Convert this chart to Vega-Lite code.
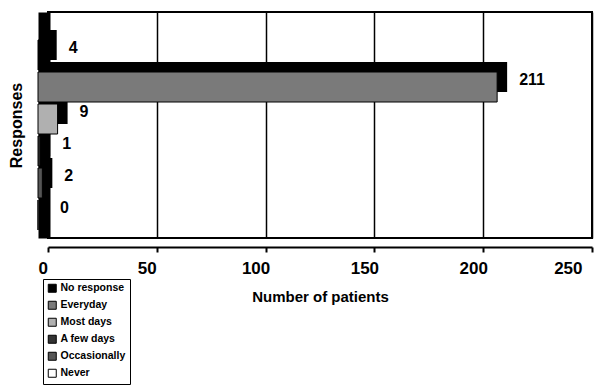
{
  "$schema": "https://vega.github.io/schema/vega-lite/v6.json",
  "width": 544,
  "height": 226,
  "autosize": "none",
  "padding": {"left": 48, "top": 12, "right": 4, "bottom": 147},
  "background": "white",
  "config": {
    "font": "Liberation Sans",
    "view": {"stroke": "black", "strokeWidth": 2}
  },
  "data": {
    "values": [
      {"response": "No response", "patients": 4},
      {"response": "Everyday", "patients": 211},
      {"response": "Most days", "patients": 9},
      {"response": "A few days", "patients": 1},
      {"response": "Occasionally", "patients": 2},
      {"response": "Never", "patients": 0}
    ]
  },
  "encoding": {
    "y": {
      "field": "response",
      "type": "nominal",
      "sort": null,
      "scale": {
        "domain": ["No response", "Everyday", "Most days", "A few days", "Occasionally", "Never"],
        "paddingInner": 0.0625,
        "paddingOuter": 0.5625
      },
      "axis": {
        "title": "Responses",
        "labels": false,
        "ticks": false,
        "domainColor": "black",
        "domainWidth": 12,
        "offset": 4,
        "titleFont": "Liberation Sans",
        "titleFontWeight": "bold",
        "titleFontSize": 16,
        "titleColor": "black",
        "titlePadding": 20
      }
    },
    "x": {
      "field": "patients",
      "type": "quantitative",
      "scale": {"domain": [0, 250], "nice": false},
      "axis": {
        "title": "Number of patients",
        "values": [0, 50, 100, 150, 200, 250],
        "grid": true,
        "gridColor": "black",
        "gridWidth": 1.5,
        "gridOpacity": 1,
        "domainColor": "black",
        "domainWidth": 2,
        "offset": 9,
        "tickColor": "black",
        "tickWidth": 2,
        "tickSize": 5,
        "labelOffset": -10,
        "labelPadding": 8,
        "labelFont": "Liberation Sans",
        "labelFontWeight": "bold",
        "labelFontSize": 17,
        "labelColor": "black",
        "titleFont": "Liberation Sans",
        "titleFontWeight": "bold",
        "titleFontSize": 15,
        "titleColor": "black",
        "titlePadding": 13
      }
    }
  },
  "layer": [
    {
      "mark": {"type": "bar", "color": "black"}
    },
    {
      "mark": {"type": "bar", "xOffset": -10, "x2Offset": -10, "yOffset": 10, "y2Offset": 10, "stroke": "black", "strokeWidth": 1},
      "encoding": {
        "color": {
          "field": "response",
          "type": "nominal",
          "scale": {
            "domain": ["No response", "Everyday", "Most days", "A few days", "Occasionally", "Never"],
            "range": ["#000000", "#7a7a7a", "#b0b0b0", "#333333", "#555555", "#ffffff"]
          },
          "legend": {
            "title": null,
            "orient": "none",
            "legendX": -5,
            "legendY": 267,
            "strokeColor": "black",
            "fillColor": "white",
            "padding": 4,
            "symbolType": "square",
            "symbolSize": 64,
            "symbolStrokeColor": "black",
            "symbolStrokeWidth": 1,
            "symbolOpacity": 1,
            "labelFont": "Liberation Sans",
            "labelFontWeight": "bold",
            "labelFontSize": 10.5,
            "labelColor": "black",
            "labelOffset": 3,
            "rowPadding": 4
          }
        }
      }
    },
    {
      "mark": {"type": "text", "align": "left", "baseline": "middle", "dx": 12, "dy": 3, "font": "Liberation Sans", "fontWeight": "bold", "fontSize": 16, "color": "black"},
      "encoding": {
        "text": {"field": "patients", "type": "quantitative"}
      }
    }
  ]
}
